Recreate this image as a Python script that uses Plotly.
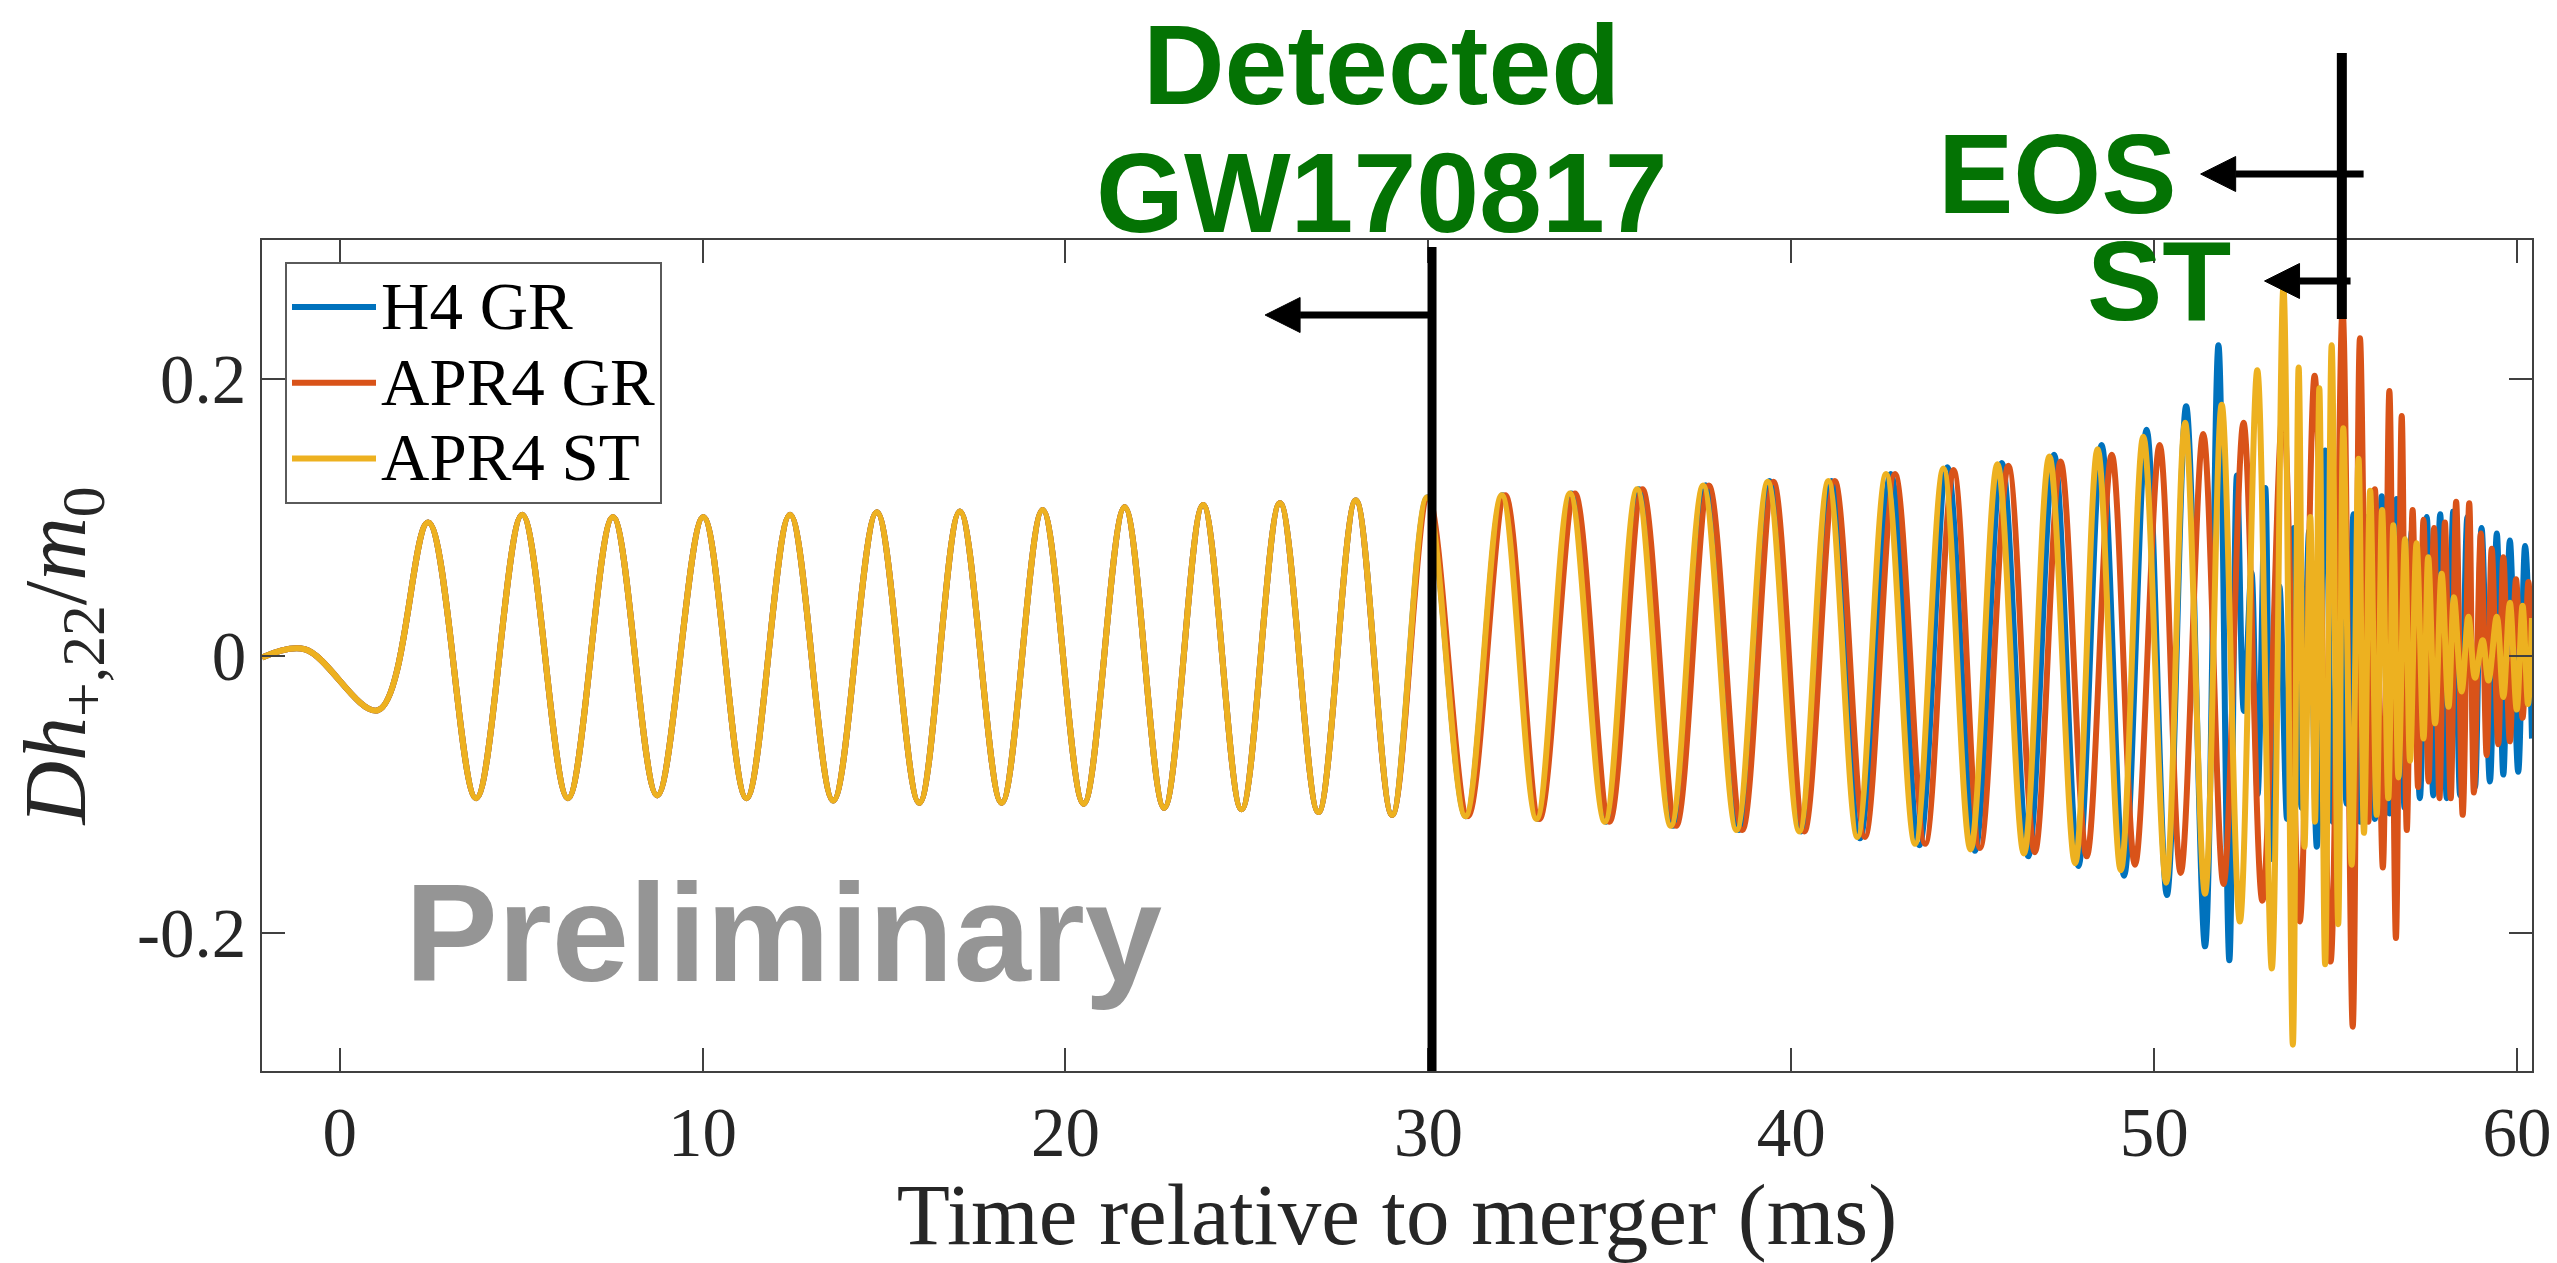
import plotly.graph_objects as go

# ---------------- data (extrema) ----------------
# shared early inspiral (all three waveforms overlap here)
COMMON_T = [-2.14, -0.96, 1.06, 2.44, 3.76, 5.03, 6.29, 7.53, 8.75, 10.02, 11.21, 12.41,
            13.60, 14.80, 15.97, 17.09, 18.24, 19.37, 20.50, 21.63, 22.72, 23.79, 24.85,
            25.91, 26.97, 28.00, 29.00]
COMMON_V = [-0.0015, 0.0045, -0.0395, 0.096, -0.103, 0.1017, -0.103, 0.100, -0.101, 0.100,
            -0.103, 0.1017, -0.1047, 0.1034, -0.1064, 0.104, -0.1064, 0.105, -0.107, 0.107,
            -0.110, 0.1087, -0.111, 0.110, -0.113, 0.112, -0.115]

# H4 GR after divergence
H4_T = [29.97, 31.03, 32.04, 33.01, 33.94, 34.90, 35.80, 36.74, 37.64, 38.56, 39.40, 40.27,
        41.11, 41.89, 42.74, 43.53, 44.30, 45.06, 45.80, 46.53, 47.24, 47.91, 48.55, 49.17,
        49.79, 50.35, 50.88, 51.40, 51.77, 52.07, 52.28, 52.47, 52.68, 52.85, 53.06, 53.22,
        53.45, 53.66, 53.84, 54.06, 54.27, 54.48, 54.71, 54.92, 55.10, 55.30, 55.49, 55.68,
        55.88, 56.08, 56.27, 56.48, 56.68, 56.90, 57.10, 57.32, 57.51, 57.69, 57.88, 58.06,
        58.24, 58.43, 58.63, 58.84, 59.02, 59.25, 59.44, 59.62, 59.80, 60.03, 60.22, 60.41]
H4_V = [0.114, -0.116, 0.1157, -0.118, 0.117, -0.120, 0.120, -0.123, 0.123, -0.126, 0.126,
        -0.127, 0.126, -0.132, 0.131, -0.137, 0.136, -0.141, 0.139, -0.145, 0.145, -0.152,
        0.152, -0.159, 0.163, -0.173, 0.180, -0.210, 0.224, -0.220, 0.130, -0.040, 0.060,
        -0.100, 0.121, -0.147, 0.050, -0.118, 0.092, -0.110, 0.090, -0.138, 0.148, -0.120,
        0.090, -0.107, 0.102, -0.120, 0.100, -0.118, 0.115, -0.114, 0.113, -0.110, 0.090,
        -0.103, 0.100, -0.101, 0.102, -0.103, 0.104, -0.101, 0.100, -0.095, 0.092, -0.091,
        0.088, -0.086, 0.083, -0.084, 0.079, -0.060]

# APR4 GR after divergence
GR_T = [30.00, 31.09, 32.12, 33.06, 34.04, 34.99, 35.90, 36.83, 37.73, 38.65, 39.51, 40.36,
        41.20, 42.03, 42.86, 43.69, 44.47, 45.20, 45.98, 46.71, 47.42, 48.14, 48.83, 49.47,
        50.15, 50.73, 51.35, 51.91, 52.46, 52.98, 53.55, 54.01, 54.42, 54.86, 55.19, 55.47,
        55.67, 55.90, 56.08, 56.30, 56.48, 56.66, 56.82, 56.96, 57.12, 57.27, 57.42, 57.56,
        57.71, 57.86, 58.01, 58.17, 58.32, 58.50, 58.68, 58.81, 59.00, 59.16, 59.30, 59.48,
        59.62, 59.80, 59.97, 60.15, 60.31, 60.41]
GR_V = [0.114, -0.116, 0.1157, -0.118, 0.117, -0.120, 0.120, -0.123, 0.1227, -0.126, 0.1254,
        -0.127, 0.126, -0.131, 0.131, -0.136, 0.134, -0.139, 0.137, -0.142, 0.140, -0.145,
        0.145, -0.151, 0.152, -0.157, 0.160, -0.165, 0.168, -0.177, 0.178, -0.192, 0.202,
        -0.221, 0.250, -0.268, 0.229, -0.120, 0.120, -0.153, 0.191, -0.204, 0.173, -0.126,
        0.105, -0.095, 0.098, -0.091, 0.092, -0.103, 0.096, -0.103, 0.111, -0.115, 0.110,
        -0.099, 0.088, -0.072, 0.077, -0.064, 0.071, -0.062, 0.055, -0.045, 0.053, -0.020]

# APR4 ST after divergence
ST_T = [29.96, 31.02, 32.02, 32.98, 33.90, 34.86, 35.75, 36.68, 37.57, 38.49, 39.35, 40.22,
        41.02, 41.82, 42.61, 43.41, 44.19, 44.94, 45.68, 46.41, 47.11, 47.82, 48.44, 49.08,
        49.70, 50.33, 50.85, 51.40, 51.86, 52.36, 52.84, 53.24, 53.56, 53.82, 53.98, 54.14,
        54.30, 54.43, 54.55, 54.71, 54.89, 55.07, 55.21, 55.44, 55.63, 55.78, 55.95, 56.13,
        56.28, 56.45, 56.59, 56.73, 56.91, 57.05, 57.23, 57.42, 57.55, 57.74, 57.92, 58.11,
        58.26, 58.47, 58.66, 58.84, 59.05, 59.21, 59.44, 59.62, 59.80, 59.99, 60.15, 60.30,
        60.41]
ST_V = [0.114, -0.116, 0.1157, -0.118, 0.117, -0.120, 0.120, -0.123, 0.1227, -0.126, 0.1254,
        -0.127, 0.126, -0.131, 0.131, -0.136, 0.135, -0.140, 0.138, -0.143, 0.1436, -0.150,
        0.149, -0.155, 0.158, -0.164, 0.168, -0.172, 0.181, -0.192, 0.206, -0.226, 0.266,
        -0.281, 0.208, -0.138, 0.100, -0.120, 0.193, -0.223, 0.224, -0.194, 0.164, -0.151,
        0.142, -0.128, 0.119, -0.115, 0.105, -0.103, 0.094, -0.088, 0.084, -0.076, 0.081,
        -0.060, 0.071, -0.049, 0.059, -0.037, 0.042, -0.026, 0.028, -0.016, 0.011, -0.018,
        0.028, -0.030, 0.038, -0.039, 0.036, -0.035, 0.027]

SERIES_NAMES = ["H4 GR", "APR4 GR", "APR4 ST"]
SERIES_COLORS = ["#0072BD", "#D95319", "#EDB120"]

X_TICKS = [0, 10, 20, 30, 40, 50, 60]
X_TICKTEXT = ["0", "10", "20", "30", "40", "50", "60"]
Y_TICKS = [-0.2, 0, 0.2]
Y_TICKTEXT = ["-0.2", "0", "0.2"]
X_RANGE = [-2.14, 60.41]
Y_RANGE = [-0.3, 0.3]

DETECTED_T = 30.1      # time of GW170817-detection marker
DETECTED_ARROW_T = 25.5
EOS_T = 55.17          # EOS / ST marker
EOS_ARROW_T = 51.28
EOS_TAIL_T = 55.77
ST_ARROW_T = 53.04
ST_TAIL_T = 55.41

# ---------------- figure ----------------
W, H = 2557, 1263
ML, MR, MT, MB = 262, 25, 240, 192
PLOT_W = W - ML - MR
PLOT_H = H - MT - MB
PX_PER_T = PLOT_W / (X_RANGE[1] - X_RANGE[0])


def ppy(py):
    """pixel row -> paper y"""
    return (H - MB - py) / PLOT_H


GREEN = "#047304"
SERIF = "Liberation Serif"
SANS = "Liberation Sans"
AXC = "#404040"
TXT = "#262626"

fig = go.Figure()
series = [(H4_T, H4_V), (GR_T, GR_V), (ST_T, ST_V)]
for (tt, vv), name, col in zip(series, SERIES_NAMES, SERIES_COLORS):
    fig.add_trace(go.Scatter(
        x=COMMON_T + tt, y=COMMON_V + vv, mode="lines",
        name='<span style="font-size:67px">%s</span>' % name,
        line=dict(color=col, width=6, shape="spline", smoothing=1),
    ))

fig.update_layout(
    width=W, height=H,
    margin=dict(l=ML, r=MR, t=MT, b=MB),
    paper_bgcolor="white", plot_bgcolor="white",
    font=dict(family=SERIF, size=69, color=TXT),
    showlegend=True,
    legend=dict(
        x=(285 - ML) / PLOT_W, y=ppy(262), xanchor="left", yanchor="top",
        bgcolor="white", bordercolor="#5a5a5a", borderwidth=2,
        font=dict(family=SERIF, size=56, color="black"),
        itemwidth=84, tracegroupgap=0,
    ),
)

fig.update_xaxes(
    range=X_RANGE, tickvals=X_TICKS, ticktext=X_TICKTEXT,
    ticks="inside", ticklen=23, tickwidth=2, tickcolor=AXC,
    showline=True, linecolor=AXC, linewidth=2, mirror="ticks",
    showgrid=False, zeroline=False,
    tickfont=dict(family=SERIF, size=69, color=TXT),
    title=dict(text="Time relative to merger (ms)", font=dict(family=SERIF, size=87, color=TXT),
               standoff=18),
    automargin=False,
)
fig.update_yaxes(
    range=Y_RANGE, tickvals=Y_TICKS, ticktext=Y_TICKTEXT,
    ticks="inside", ticklen=23, tickwidth=2, tickcolor=AXC,
    showline=True, linecolor=AXC, linewidth=2, mirror="ticks",
    showgrid=False, zeroline=False,
    tickfont=dict(family=SERIF, size=69, color=TXT),
    title=dict(text="<i>Dh</i><sub>+,22</sub>/<i>m</i><sub>0</sub>",
               font=dict(family=SERIF, size=88, color=TXT), standoff=22),
    automargin=False,
)

# vertical marker lines
fig.add_shape(type="line", xref="x", yref="paper", x0=DETECTED_T, x1=DETECTED_T,
              y0=0, y1=ppy(247), line=dict(color="black", width=9))
fig.add_shape(type="line", xref="x", yref="paper", x0=EOS_T, x1=EOS_T,
              y0=ppy(319), y1=ppy(53), line=dict(color="black", width=10))

# left-pointing arrows (shaft + filled head)
HEAD_LEN = 35 / PX_PER_T
HEAD_HALF = 17.5 / PLOT_H


def arrow(tip, tail, py):
    y = ppy(py)
    base = tip + HEAD_LEN
    fig.add_shape(type="line", xref="x", yref="paper", x0=tail, x1=base, y0=y, y1=y,
                  line=dict(color="black", width=7))
    fig.add_shape(type="path", xref="x", yref="paper",
                  path="M %f,%f L %f,%f L %f,%f Z" % (tip, y, base, y + HEAD_HALF, base, y - HEAD_HALF),
                  fillcolor="black", line=dict(color="black", width=1))


arrow(DETECTED_ARROW_T, DETECTED_T, 315)
arrow(EOS_ARROW_T, EOS_TAIL_T, 174)
arrow(ST_ARROW_T, ST_TAIL_T, 281)


# texts
def label(text, x, py, size, color, family=SANS):
    fig.add_annotation(text="<b>%s</b>" % text, x=x, xref="x", y=ppy(py), yref="paper",
                       showarrow=False, xanchor="center", yanchor="middle",
                       font=dict(family=family, size=size, color=color))


label("Detected", 28.72, 65, 113, GREEN)
label("GW170817", 28.72, 193, 113, GREEN)
label("EOS", 47.33, 174, 113, GREEN)
label("ST", 50.12, 281, 113, GREEN)
label("Preliminary", 12.24, 932.5, 139, "#959595")

fig.write_html("out.html")
